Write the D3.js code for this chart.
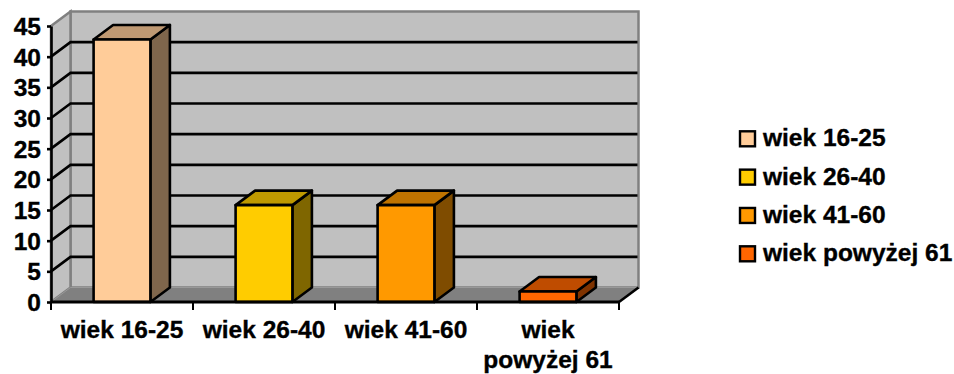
<!DOCTYPE html>
<html>
<head>
<meta charset="utf-8">
<script src="https://cdn.jsdelivr.net/npm/d3@7"></script>
<style>
  html, body { margin: 0; padding: 0; background: #fff; }
  text { font-family: "Liberation Sans", Arial, sans-serif; font-weight: bold; fill: #000; stroke: #000; stroke-width: 0.35px; }
</style>
</head>
<body>
<div id="container"></div>
<script>
let categories = ['wiek 16-25', 'wiek 26-40', 'wiek 41-60', 'wiek powyżej 61'],
  values = [42.8, 15.8, 15.8, 1.7],
  y_ticks = [0, 5, 10, 15, 20, 25, 30, 35, 40, 45],
  front_colors = ['#FFCC99', '#FFCC00', '#FF9900', '#FF6600'],
  top_colors = ['#BF9973', '#BF9900', '#BF7300', '#BF4C00'],
  side_colors = ['#7F664C', '#7F6600', '#7F4C00', '#7F3300'],
  width = 954,
  height = 374,
  depth_x = 19.5,
  depth_y = 14.5,
  font_size = 24.5,
  line_w = 2.6

let svg = d3.select('#container')
  .append('svg')
  .attr('width', width)
  .attr('height', height)
  .style('display', 'block')

// scales
let scale_x = d3.scaleBand()
  .domain(categories)
  .range([51, 619])
  .paddingInner(0.6)
  .paddingOuter(0.3)

let scale_y = d3.scaleLinear()
  .domain([0, 45])
  .range([302, 26])

let x0 = scale_x.range()[0],
  x1 = scale_x.range()[1],
  y0 = scale_y(0),
  y1 = scale_y(45)

function poly(points) {
  return points.map(function (p) { return p.join(',') }).join(' ')
}

// walls and floor
svg.append('polygon')
  .attr('points', poly([[x0 + depth_x, y1 - depth_y], [x1 + depth_x, y1 - depth_y], [x1 + depth_x, y0 - depth_y], [x0 + depth_x, y0 - depth_y]]))
  .attr('fill', '#C0C0C0')
  .attr('stroke', '#808080')
  .attr('stroke-width', 2.5)

svg.append('polygon')
  .attr('points', poly([[x0, y1], [x0 + depth_x, y1 - depth_y], [x0 + depth_x, y0 - depth_y], [x0, y0]]))
  .attr('fill', '#C0C0C0')
  .attr('stroke', '#808080')
  .attr('stroke-width', 2.5)

svg.append('polygon')
  .attr('points', poly([[x0, y0], [x0 + depth_x, y0 - depth_y], [x1 + depth_x, y0 - depth_y], [x1, y0]]))
  .attr('fill', '#808080')
  .attr('stroke', '#999')
  .attr('stroke-width', 1)

// gridlines, back wall + side wall
let grid = svg.append('g')
  .attr('fill', 'none')
  .attr('stroke', '#000')
  .attr('stroke-width', line_w)

grid.selectAll('polyline')
  .data(y_ticks.filter(function (d) { return d > 0 && d < 45 }))
  .enter().append('polyline')
  .attr('points', function (d) {
    let y = scale_y(d)
    return poly([[x0, y], [x0 + depth_x, y - depth_y], [x1 + depth_x - 1, y - depth_y]])
  })

// floor edge on the right
svg.append('line')
  .attr('x1', x1).attr('y1', y0)
  .attr('x2', x1 + depth_x).attr('y2', y0 - depth_y)
  .attr('stroke', '#000')
  .attr('stroke-width', line_w)

// bars
let bar = svg.selectAll('g.bar')
  .data(categories)
  .enter().append('g')
  .attr('class', 'bar')
  .attr('stroke', '#000')
  .attr('stroke-width', line_w)
  .attr('stroke-linejoin', 'round')

bar.append('polygon')
  .attr('fill', function (d, i) { return side_colors[i] })
  .attr('points', function (d, i) {
    let r = scale_x(d) + scale_x.bandwidth(), t = scale_y(values[i])
    return poly([[r, t], [r + depth_x, t - depth_y], [r + depth_x, y0 - depth_y], [r, y0]])
  })

bar.append('polygon')
  .attr('fill', function (d, i) { return top_colors[i] })
  .attr('points', function (d, i) {
    let l = scale_x(d), r = l + scale_x.bandwidth(), t = scale_y(values[i])
    return poly([[l, t], [l + depth_x, t - depth_y], [r + depth_x, t - depth_y], [r, t]])
  })

bar.append('rect')
  .attr('fill', function (d, i) { return front_colors[i] })
  .attr('x', function (d) { return scale_x(d) })
  .attr('y', function (d, i) { return scale_y(values[i]) })
  .attr('width', scale_x.bandwidth())
  .attr('height', function (d, i) { return y0 - scale_y(values[i]) })

// axes
let y_axis = d3.axisLeft(scale_y)
  .tickValues(y_ticks)
  .tickSize(4)
  .tickPadding(6)
  .tickSizeOuter(0)

let y_g = svg.append('g')
  .attr('transform', 'translate(' + x0 + ',0)')
  .call(y_axis)

y_g.selectAll('text')
  .attr('dy', '0.34em')
  .style('font-size', font_size + 'px')

let scale_edges = d3.scaleLinear().domain([0, categories.length]).range([x0, x1])

svg.append('g')
  .selectAll('line')
  .data(d3.range(categories.length + 1))
  .enter().append('line')
  .attr('x1', function (d) { return scale_edges(d) })
  .attr('x2', function (d) { return scale_edges(d) })
  .attr('y1', y0)
  .attr('y2', y0 + 8)
  .attr('stroke', '#000')
  .attr('stroke-width', 2)

svg.append('line')
  .attr('x1', x0).attr('x2', x1)
  .attr('y1', y0).attr('y2', y0)
  .attr('stroke', '#000')
  .attr('stroke-width', 3)

svg.selectAll('.domain, .tick line')
  .attr('stroke', '#000')
  .attr('stroke-width', line_w)

// category labels, last one wraps on two lines
let labels = svg.append('g').selectAll('text')
  .data(categories)
  .enter().append('text')
  .attr('text-anchor', 'middle')
  .attr('y', 338)
  .style('font-size', font_size + 'px')

labels.each(function (d) {
  let lines = d === 'wiek powyżej 61' ? ['wiek', 'powyżej 61'] : [d]
  d3.select(this).selectAll('tspan')
    .data(lines)
    .enter().append('tspan')
    .attr('x', scale_x(d) + scale_x.bandwidth() / 2)
    .attr('dy', function (l, i) { return i ? 30 : 0 })
    .text(function (l) { return l })
})

// legend
let scale_legend = d3.scalePoint()
  .domain(categories)
  .range([138.3, 253.3])

let legend = svg.selectAll('g.legend')
  .data(categories)
  .enter().append('g')
  .attr('class', 'legend')
  .attr('transform', function (d) { return 'translate(739,' + scale_legend(d) + ')' })

legend.append('rect')
  .attr('x', 1)
  .attr('y', -7)
  .attr('width', 15)
  .attr('height', 15)
  .attr('fill', function (d, i) { return front_colors[i] })
  .attr('stroke', '#000')
  .attr('stroke-width', 2.4)

legend.append('text')
  .attr('x', 24)
  .attr('y', 8)
  .style('font-size', font_size + 'px')
  .text(function (d) { return d })
</script>
</body>
</html>
